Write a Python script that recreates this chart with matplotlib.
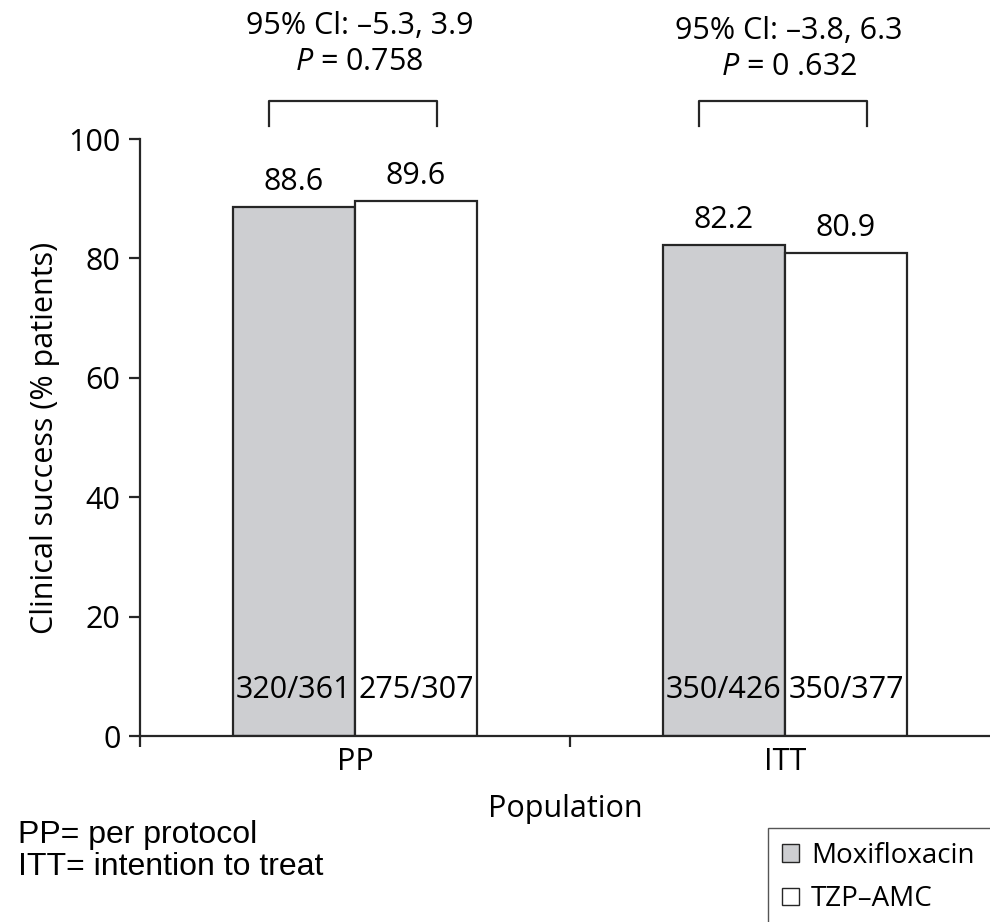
import numpy as np
import matplotlib.pyplot as plt
from matplotlib.patches import Patch, Rectangle

plt.rcParams['font.family'] = ['Open Sans', 'DejaVu Sans']
plt.rcParams['mathtext.fontset'] = 'custom'
plt.rcParams['mathtext.rm'] = 'Open Sans'
plt.rcParams['mathtext.it'] = 'Open Sans:italic'

# dados
grupos = ['PP', 'ITT']
moxi = [88.6, 82.2]
tzp = [89.6, 80.9]
moxi_n = ['320/361', '350/426']
tzp_n = ['275/307', '350/377']
ic_txt = ['95% Cl: \u20135.3, 3.9\n$P$ = 0.758', '95% Cl: \u20133.8, 6.3\n$P$ = 0 .632']

cor_moxi = '#cdced1'
cor_borda = '#262626'
fs = 22

fig = plt.figure(figsize=(9.9, 9.22), dpi=100)
ax = fig.add_axes([0.1414, 0.2017, 0.8586, 0.6475])

x = np.arange(len(grupos))
w = 0.284
b1 = ax.bar(x - w/2, moxi, w, color=cor_moxi, edgecolor=cor_borda, linewidth=1.6, label='Moxifloxacin')
b2 = ax.bar(x + w/2, tzp, w, color='white', edgecolor=cor_borda, linewidth=1.6, label='TZP\u2013AMC')

# valores em cima das barras
for barras in (b1, b2):
    for r in barras:
        ax.annotate(f'{r.get_height():.1f}', (r.get_x() + r.get_width()/2, r.get_height()),
                    xytext=(0, 18), textcoords='offset points', ha='center', va='center', fontsize=fs)

# n/N dentro das barras
for r, s in zip(list(b1) + list(b2), moxi_n + tzp_n):
    ax.text(r.get_x() + r.get_width()/2, 7.7, s, ha='center', va='center', fontsize=fs)

# colchetes e IC
for i, g in enumerate(x):
    xl, xr = g - 0.2, g + 0.19
    ax.plot([xl, xl, xr, xr], [102.2, 106.4, 106.4, 102.2], color=cor_borda, lw=1.6, clip_on=False)
    ax.text(g + 0.01, 115.9 - 0.8*i, ic_txt[i], ha='center', va='center', fontsize=fs,
            linespacing=1.25, clip_on=False)

ax.set_xlim(-0.5, 1.477)
ax.set_ylim(0, 100)
ax.set_yticks([0, 20, 40, 60, 80, 100])
ax.set_xticks(x)
ax.set_xticklabels(grupos)
ax.set_xticks([-0.5, 0.5], minor=True)
ax.tick_params(axis='x', which='major', length=0, pad=8, labelsize=fs)
ax.tick_params(axis='x', which='minor', length=8, width=1.6, color=cor_borda)
ax.tick_params(axis='y', length=8, width=1.6, color=cor_borda, pad=6, labelsize=fs)
for s in ['top', 'right']:
    ax.spines[s].set_visible(False)
for s in ['left', 'bottom']:
    ax.spines[s].set_linewidth(1.6)
    ax.spines[s].set_color(cor_borda)

ax.set_ylabel('Clinical success (% patients)', fontsize=fs, labelpad=6)
ax.set_xlabel('Population', fontsize=fs, labelpad=12)

fig.text(0.018, 0.077, 'PP= per protocol\nITT= intention to treat', family='Liberation Sans',
         fontsize=23, va='center', ha='left', linespacing=1.1)

# legenda (moldura cortada pela borda da figura, como no original)
handles = [Patch(facecolor=cor_moxi, edgecolor=cor_borda, label='Moxifloxacin'),
           Patch(facecolor='white', edgecolor=cor_borda, label='TZP\u2013AMC')]
leg = fig.legend(handles=handles, loc='upper left', bbox_to_anchor=(0.7758, 0.1020), fontsize=20,
                 frameon=False, handlelength=0.6, handleheight=0.6,
                 handletextpad=0.45, borderpad=0.5, labelspacing=0.55, borderaxespad=0)
fig.patches.append(Rectangle((0.7758, -0.2), 0.5, 0.302, transform=fig.transFigure,
                             facecolor='none', edgecolor='#555555', linewidth=1.0))

plt.savefig('out.png', dpi=100)
